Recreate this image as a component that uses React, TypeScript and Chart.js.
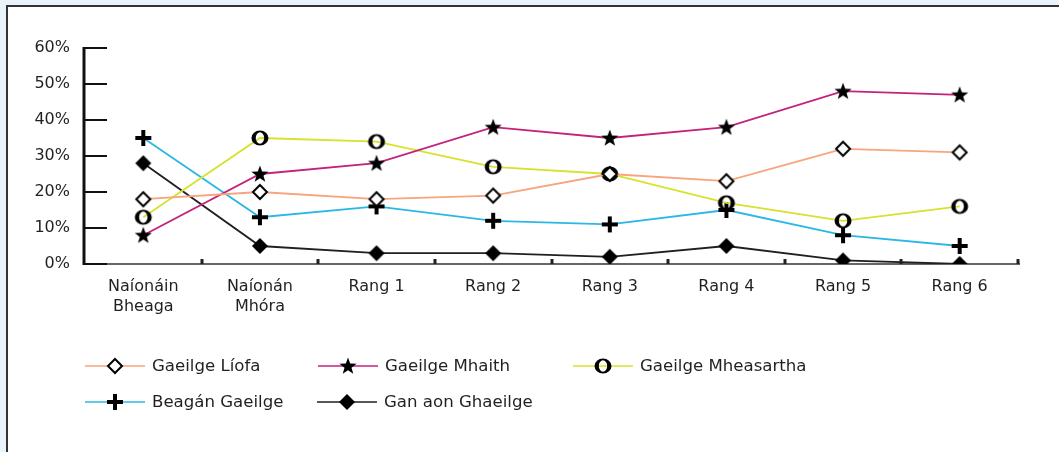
import React, { useEffect, useRef } from "react";
import { Chart, registerables } from "chart.js";

Chart.register(...registerables);

const categories: (string | string[])[] = [
  ["Naíonáin", "Bheaga"],
  ["Naíonán", "Mhóra"],
  "Rang 1",
  "Rang 2",
  "Rang 3",
  "Rang 4",
  "Rang 5",
  "Rang 6",
];
const yTickValues = [0, 10, 20, 30, 40, 50, 60];

const seriesNames = [
  "Gaeilge Líofa",
  "Gaeilge Mhaith",
  "Gaeilge Mheasartha",
  "Beagán Gaeilge",
  "Gan aon Ghaeilge",
];
const liofa = [18, 20, 18, 19, 25, 23, 32, 31];
const mhaith = [8, 25, 28, 38, 35, 38, 48, 47];
const mheasartha = [13, 35, 34, 27, 25, 17, 12, 16];
const beagan = [35, 13, 16, 12, 11, 15, 8, 5];
const ganAon = [28, 5, 3, 3, 2, 5, 1, 0];

const seriesColors = ["#f8a47c", "#c4237b", "#d7e22c", "#2bb8e4", "#231f20"];
const markerKinds = ["openDiamond", "star", "letterO", "plus", "filledDiamond"];

const FONT = "'DejaVu Sans', sans-serif";
const TEXT = "#231f20";

function makeMarker(kind: string): HTMLCanvasElement {
  const c = document.createElement("canvas");
  c.width = 22;
  c.height = 22;
  const ctx = c.getContext("2d")!;
  const cx = 11, cy = 11;
  ctx.fillStyle = "#000";
  ctx.strokeStyle = "#000";
  if (kind === "openDiamond") {
    ctx.beginPath();
    ctx.moveTo(cx, cy - 7);
    ctx.lineTo(cx + 7, cy);
    ctx.lineTo(cx, cy + 7);
    ctx.lineTo(cx - 7, cy);
    ctx.closePath();
    ctx.fillStyle = "#fff";
    ctx.fill();
    ctx.lineWidth = 2;
    ctx.stroke();
  } else if (kind === "filledDiamond") {
    ctx.beginPath();
    ctx.moveTo(cx, cy - 8);
    ctx.lineTo(cx + 8, cy);
    ctx.lineTo(cx, cy + 8);
    ctx.lineTo(cx - 8, cy);
    ctx.closePath();
    ctx.fill();
  } else if (kind === "star") {
    const R = 9, r = 3.7;
    ctx.beginPath();
    for (let i = 0; i < 10; i++) {
      const rad = i % 2 === 0 ? R : r;
      const a = -Math.PI / 2 + (i * Math.PI) / 5;
      const x = cx + rad * Math.cos(a);
      const y = cy + 0.5 + rad * Math.sin(a);
      if (i === 0) ctx.moveTo(x, y);
      else ctx.lineTo(x, y);
    }
    ctx.closePath();
    ctx.fill();
  } else if (kind === "letterO") {
    ctx.beginPath();
    ctx.ellipse(cx, cy, 8.5, 7.5, 0, 0, Math.PI * 2);
    ctx.ellipse(cx, cy, 4.2, 5.8, 0, 0, Math.PI * 2);
    ctx.fill("evenodd");
  } else if (kind === "plus") {
    ctx.fillRect(cx - 8, cy - 2, 16, 4);
    ctx.fillRect(cx - 2, cy - 8, 4, 16);
  }
  return c;
}

export default function App() {
  const canvasRef = useRef<HTMLCanvasElement | null>(null);

  useEffect(() => {
    document.body.style.margin = "0";
    const canvas = canvasRef.current;
    if (!canvas) return;
    const markers = markerKinds.map((k) => makeMarker(k));
    const dataArrays = [liofa, mhaith, mheasartha, beagan, ganAon];

    const axesPlugin = {
      id: "customAxes",
      beforeDatasetsDraw(chart: any) {
        const { ctx, chartArea } = chart;
        const yScale = chart.scales.y;
        const { left, right, bottom, top } = chartArea;
        ctx.save();
        ctx.strokeStyle = "#333";
        ctx.lineWidth = 1.5;
        ctx.beginPath();
        ctx.moveTo(left, bottom);
        ctx.lineTo(right + 2, bottom);
        ctx.stroke();
        const n = categories.length;
        const w = (right - left) / n;
        ctx.fillStyle = "#222";
        for (let i = 1; i <= n; i++) {
          const x = left + i * w;
          ctx.fillRect(Math.round(x) - 1.5, bottom - 5, 3, 5);
        }
        ctx.strokeStyle = "#111";
        ctx.lineWidth = 2;
        yTickValues.forEach((v) => {
          const y = Math.round(yScale.getPixelForValue(v));
          ctx.beginPath();
          ctx.moveTo(left - 1, y);
          ctx.lineTo(left + 22, y);
          ctx.stroke();
        });
        ctx.lineWidth = 3;
        ctx.beginPath();
        ctx.moveTo(left - 1, top - 1);
        ctx.lineTo(left - 1, bottom + 1);
        ctx.stroke();
        ctx.restore();
      },
    };

    const legendPlugin = {
      id: "customLegend",
      afterDraw(chart: any) {
        const { ctx } = chart;
        const pos = [
          [85, 366],
          [318, 366],
          [573, 366],
          [85, 402],
          [317, 402],
        ];
        ctx.save();
        seriesNames.forEach((name, i) => {
          const [x, y] = pos[i];
          ctx.strokeStyle = seriesColors[i];
          ctx.lineWidth = 1.5;
          ctx.beginPath();
          ctx.moveTo(x, y);
          ctx.lineTo(x + 60, y);
          ctx.stroke();
          const m = markers[i];
          ctx.drawImage(m, x + 30 - m.width / 2, y - m.height / 2);
          ctx.fillStyle = TEXT;
          ctx.font = `16.6px ${FONT}`;
          ctx.textAlign = "left";
          ctx.textBaseline = "middle";
          ctx.fillText(name, x + 67, y + 1);
        });
        ctx.restore();
      },
    };

    const chart = new Chart(canvas, {
      type: "line",
      data: {
        labels: categories as any,
        datasets: seriesNames.map((name, i) => ({
          label: name,
          data: dataArrays[i],
          borderColor: seriesColors[i],
          borderWidth: 1.8,
          pointStyle: markers[i] as any,
          pointRadius: 8,
          pointHoverRadius: 8,
          fill: false,
          tension: 0,
        })),
      },
      options: {
        animation: false,
        responsive: false,
        devicePixelRatio: 1,
        layout: { padding: { top: 48, right: 41, left: 0, bottom: 0 } },
        plugins: {
          legend: { display: false },
          tooltip: { enabled: false },
        },
        scales: {
          x: {
            type: "category",
            offset: true,
            grid: { display: false },
            border: { display: false },
            ticks: {
              color: TEXT,
              font: { family: FONT, size: 16, lineHeight: 1.3 },
              padding: 4,
              maxRotation: 0,
              autoSkip: false,
            },
            afterFit: (s: any) => {
              s.height = 188;
            },
          },
          y: {
            min: 0,
            max: 60,
            grid: { display: false },
            border: { display: false },
            ticks: {
              stepSize: 10,
              color: TEXT,
              font: { family: FONT, size: 16 },
              padding: 7,
              callback: (v: any) => `${v}%`,
            },
            afterFit: (s: any) => {
              s.width = 85;
            },
          },
        },
      },
      plugins: [axesPlugin, legendPlugin],
    });
    return () => chart.destroy();
  }, []);

  return (
    <div
      style={{
        position: "fixed",
        left: 0,
        top: 0,
        width: 1059,
        height: 452,
        background: "#e9f4fa",
        overflow: "hidden",
      }}
    >
      <div
        style={{
          position: "absolute",
          left: 6,
          top: 5,
          right: 0,
          bottom: 0,
          background: "#fff",
          borderTop: "2px solid #333",
          borderLeft: "2px solid #333",
        }}
      />
      <canvas
        ref={canvasRef}
        width={1059}
        height={452}
        style={{ position: "absolute", left: 0, top: 0, width: 1059, height: 452 }}
      />
    </div>
  );
}
